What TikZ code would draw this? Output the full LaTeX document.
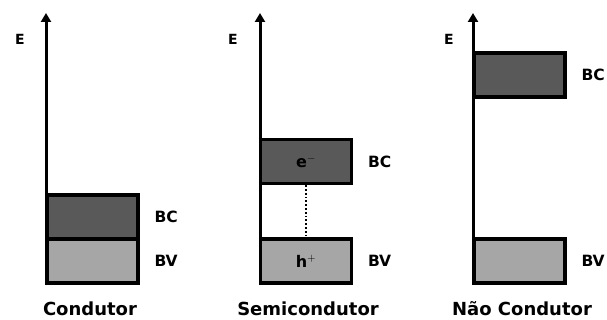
\documentclass[tikz,border=0pt]{standalone}
\usepackage{fontspec}
\setmainfont{DejaVu Sans}
\usetikzlibrary{arrows.meta, positioning}
\definecolor{cdark}{HTML}{595959}
\definecolor{clight}{HTML}{A6A6A6}
\tikzset{
  every picture/.style={font=\bfseries, line width=3.5pt},
  band/.style={draw=black, fill=#1, minimum width=91pt, minimum height=44pt, inner sep=0pt, line width=3.5pt, font=\fontsize{16}{18}\selectfont\bfseries},
  band/.default=clight,
  axis/.style={-{Triangle[length=9pt, width=10pt]}, draw=black, line width=3pt},
  lbl/.style={inner sep=0pt, font=\fontsize{15.5}{18}\selectfont\bfseries},
  elbl/.style={inner sep=0pt, font=\fontsize{14}{16}\selectfont\bfseries},
  title/.style={inner sep=0pt, font=\fontsize{18}{20}\selectfont\bfseries},
}

\begin{document}
\begin{tikzpicture}[x=1pt, y=-1pt]
  \useasboundingbox (0,0) rectangle (607,320);
  % condutor
  \coordinate (a1) at (46,283);
  \coordinate (t1) at (46,13);
  \draw[axis] (a1) -- (t1);
  \node[band] (bv1) at (92.5,261) {};
  \node[band=cdark] (bc1) at (92.5,217) {};
  \node[lbl, right=13pt of bc1] (lbc1) {BC};
  \node[lbl, right=13pt of bv1] (lbv1) {BV};
  \node[elbl] (e1) at (20,39) {E};
  \node[title] (n1) at (90,309) {Condutor};
  % semicondutor
  \coordinate (a2) at (260,283);
  \coordinate (t2) at (260,13);
  \draw[axis] (a2) -- (t2);
  \node[band=cdark] (bc2) at (306,161.5) {e$^{-}$};
  \node[band] (bv2) at (306,261) {h$^{+}$};
  \draw[line width=1.8pt, dotted] (bc2.south) -- (bv2.north);
  \node[lbl, right=13pt of bc2] (lbc2) {BC};
  \node[lbl, right=13pt of bv2] (lbv2) {BV};
  \node[elbl] (e2) at (233,39) {E};
  \node[title] (n2) at (308,309) {Semicondutor};
  % nao condutor
  \coordinate (a3) at (473,283);
  \coordinate (t3) at (473,13);
  \draw[axis] (a3) -- (t3);
  \node[band=cdark] (bc3) at (519.5,75) {};
  \node[band] (bv3) at (519.5,261) {};
  \node[lbl, right=13pt of bc3] (lbc3) {BC};
  \node[lbl, right=13pt of bv3] (lbv3) {BV};
  \node[elbl] (e3) at (449,39) {E};
  \node[title] (n3) at (522,309) {Não Condutor};
\end{tikzpicture}
\end{document}
